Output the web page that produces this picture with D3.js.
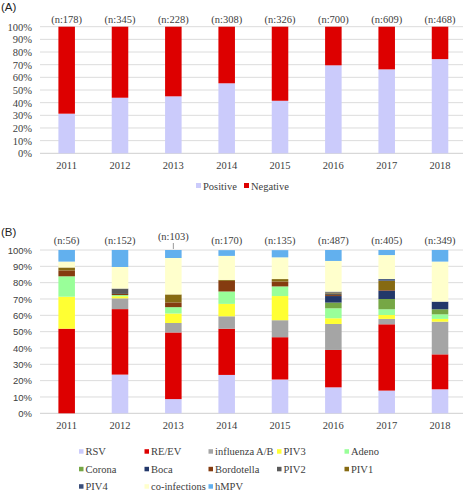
<!DOCTYPE html>
<html><head><meta charset="utf-8">
<script src="https://cdn.jsdelivr.net/npm/d3@7"></script>
<style>body{margin:0;background:#fff}svg{display:block}
.serif{font-family:"Liberation Serif","Times New Roman",Times,serif !important}
.sans{font-family:"Liberation Sans",Arial,Helvetica,sans-serif !important}
</style>
</head><body>
<script>
// ---------- data ----------
const years = ["2011","2012","2013","2014","2015","2016","2017","2018"];
const topN = [178,345,228,308,326,700,609,468];
const positive = [31.3,43.9,45.0,55.3,41.5,69.5,66.3,74.4];
const negative = [68.7,56.1,55.0,44.7,58.5,30.5,33.7,25.6];
const bottomN = [56,152,103,170,135,487,405,349];
const pathogens = ["RSV","RE/EV","influenza A/B","PIV3","Adeno","Corona","Boca","Bordotella","PIV2","PIV1","PIV4","co-infections","hMPV"];
const rsv        = [0,23.7,8.7,23.5,20.7,15.9,13.9,14.7];
const reev       = [51.8,40.1,40.8,28.3,25.9,22.9,40.6,21.4];
const influenza  = [0,6.6,5.8,7.6,10.4,15.9,3.3,20.0];
const piv3       = [19.6,1.3,5.8,7.6,14.8,3.5,2.4,1.7];
const adeno      = [12.5,0.7,3.9,7.6,5.9,6.1,3.5,2.8];
const corona     = [0,0,0,0,0,3.5,6.3,3.1];
const boca       = [0,0,0,0,0,4.0,5.1,4.7];
const bordotella = [3.6,0.7,2.9,6.5,3.0,0.6,0.4,0];
const piv2       = [0,3.3,0,0,0,1.0,0,0];
const piv1       = [1.8,0,4.9,0.6,1.5,0.6,5.7,0];
const piv4       = [0,0,0,0,0,0.5,1.0,0];
const coinf      = [3.6,13.2,22.3,14.7,13.3,18.8,14.7,24.5];
const hmpv       = [7.1,10.5,4.9,3.5,4.4,6.7,3.1,7.1];
const yTicks = [0,10,20,30,40,50,60,70,80,90,100];

const seriesB = [rsv,reev,influenza,piv3,adeno,corona,boca,bordotella,piv2,piv1,piv4,coinf,hmpv];
const colorsB = ["#CBCBFB","#DD0000","#A5A5A5","#FFFF33","#99FF99","#76A745","#23386A","#853C10","#5A5A5A","#866A12","#3A4E7A","#FFFFCC","#62B0EE"];
const colorsA = {Positive:"#CBCBFB", Negative:"#DD0000"};

const W = 467, H = 491;
const svg = d3.select("body").append("svg").attr("width",W).attr("height",H);

const x = d3.scaleBand().domain(years).range([40,466.7]).paddingInner(0.69).paddingOuter(0.345);

function drawFrame(g, y, tickCls, tickSize){
  g.append("g").selectAll("line").data(yTicks).join("line")
    .attr("x1",40).attr("x2",463).attr("y1",d=>y(d)).attr("y2",d=>y(d))
    .attr("stroke",d=>d===0?"#CFCFCF":"#DCDCDC").attr("stroke-width",1);
  const ax = g.append("g").attr("transform","translate(34,0)")
    .call(d3.axisLeft(y).tickValues(yTicks).tickFormat(d=>d+"%").tickSize(0).tickPadding(2));
  ax.select(".domain").remove();
  ax.attr("font-family",null);
  ax.selectAll("text").attr("class",tickCls).attr("font-size",tickSize).attr("fill","#404040");
  const xa = g.append("g").attr("transform",`translate(0,${y(0)})`)
    .call(d3.axisBottom(x).tickSize(0).tickPadding(8));
  xa.select(".domain").remove();
  xa.attr("font-family",null);
  xa.selectAll("text").attr("class","serif").attr("font-size",10.5).attr("fill","#404040");
}

// ---------- chart A ----------
const gA = svg.append("g");
const yA = d3.scaleLinear().domain([0,100]).range([153.3,26.7]);
gA.append("text").attr("class","sans").attr("x",1).attr("y",11).attr("font-size",11.5).attr("fill","#222").text("(A)");
drawFrame(gA, yA, "serif", 10.5);
const dataA = years.map((yr,i)=>({year:yr, Positive:positive[i], Negative:negative[i]}));
const stackA = d3.stack().keys(["Positive","Negative"])(dataA);
gA.append("g").selectAll("g").data(stackA).join("g").attr("fill",d=>colorsA[d.key])
  .selectAll("rect").data(d=>d).join("rect")
  .attr("x",d=>x(d.data.year)).attr("width",x.bandwidth())
  .attr("y",d=>yA(Math.min(100,d[1]))).attr("height",d=>yA(d[0])-yA(Math.min(100,d[1])));
gA.append("g").selectAll("text").data(years).join("text").attr("class","serif")
  .attr("x",d=>x(d)+x.bandwidth()/2).attr("y",yA(100)-4).attr("text-anchor","middle")
  .attr("font-size",10.5).attr("fill","#404040")
  .text((d,i)=>`(n:${topN[i]})`);
// legend A
const legA = gA.append("g");
[["Positive",196],["Negative",244]].forEach(([k,lx])=>{
  legA.append("rect").attr("x",lx).attr("y",183).attr("width",5).attr("height",5).attr("fill",colorsA[k]);
  legA.append("text").attr("class","serif").attr("x",lx+7).attr("y",189.5).attr("font-size",10.5).attr("fill","#404040").text(k);
});

// ---------- chart B ----------
const gB = svg.append("g");
const yB = d3.scaleLinear().domain([0,100]).range([413.3,250]);
gB.append("text").attr("class","sans").attr("x",1).attr("y",236).attr("font-size",11.5).attr("fill","#222").text("(B)");
drawFrame(gB, yB, "sans", 9.5);
const dataB = years.map((yr,i)=>{const o={year:yr}; pathogens.forEach((p,j)=>o[p]=seriesB[j][i]); return o;});
const stackB = d3.stack().keys(pathogens)(dataB);
gB.append("g").selectAll("g").data(stackB).join("g").attr("fill",(d,i)=>colorsB[i])
  .selectAll("rect").data(d=>d).join("rect")
  .attr("x",d=>x(d.data.year)).attr("width",x.bandwidth())
  .attr("y",d=>yB(Math.min(100,d[1]))).attr("height",d=>Math.max(0,yB(d[0])-yB(Math.min(100,d[1]))));
gB.append("g").selectAll("text").data(years).join("text").attr("class","serif")
  .attr("x",d=>x(d)+x.bandwidth()/2).attr("y",(d,i)=>i===2?yB(100)-10:yB(100)-6).attr("text-anchor","middle")
  .attr("font-size",10.5).attr("fill","#404040")
  .text((d,i)=>`(n:${bottomN[i]})`);
// leader line for the raised label
gB.append("line").attr("x1",x("2013")+x.bandwidth()/2).attr("x2",x("2013")+x.bandwidth()/2)
  .attr("y1",yB(100)-7).attr("y2",yB(100)-1).attr("stroke","#808080").attr("stroke-width",0.8);
// legend B
const legB = gB.append("g");
const colX = [79,144.5,208.5,277,344.5];
const rowY = [451.7,469.3,486.7];
pathogens.forEach((p,i)=>{
  const cx = colX[i%5], cy = rowY[Math.floor(i/5)];
  legB.append("rect").attr("x",cx).attr("y",cy-2.5).attr("width",4.5).attr("height",4.5).attr("fill",colorsB[i]);
  legB.append("text").attr("class","serif").attr("x",cx+6.5).attr("y",cy+3.5).attr("font-size",10.5).attr("fill","#404040").text(p);
});
</script>
</body></html>
